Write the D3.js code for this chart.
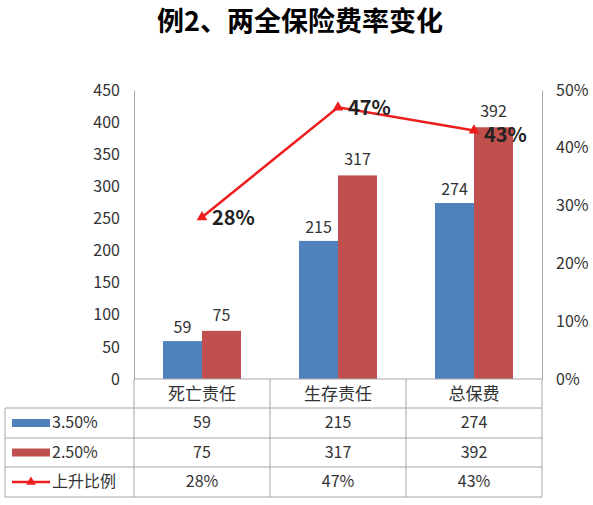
<!DOCTYPE html>
<html><head><meta charset="utf-8">
<script src="https://cdn.jsdelivr.net/npm/d3@7"></script>
<style>body{margin:0;background:#fff}text{font-family:"Noto Sans CJK SC","Noto Sans",sans-serif}</style>
</head><body><svg id="c" width="593" height="505"></svg>
<script>
var categories = ["死亡责任", "生存责任", "总保费"];
var series35 = [59, 215, 274];
var series25 = [75, 317, 392];
var rise = [28, 47, 43];
var leftTicks = [0, 50, 100, 150, 200, 250, 300, 350, 400, 450];
var rightTicks = [0, 10, 20, 30, 40, 50];

var svg = d3.select("#c");
var L = 134, R = 542, T = 90, B = 379;
var x = d3.scaleBand().domain(categories).range([L, R]);
var y = d3.scaleLinear().domain([0, 450]).range([B, T]);
var y2 = d3.scaleLinear().domain([0, 50]).range([B, T]);
var blue = "#4f81bd", red = "#c0504d", grid = "#a6a6a6";

svg.append("text").attr("x", 300).attr("y", 31).attr("text-anchor", "middle")
  .attr("font-size", 27).attr("font-weight", "bold").text("例2、两全保险费率变化");

// axes
var ax = svg.append("g").attr("transform", "translate(" + L + ",0)")
  .call(d3.axisLeft(y).tickValues(leftTicks).tickSize(0).tickPadding(14));
var ax2 = svg.append("g").attr("transform", "translate(" + R + ",0)")
  .call(d3.axisRight(y2).tickValues(rightTicks).tickSize(0).tickPadding(14).tickFormat(function (d) { return d + "%"; }));
[ax, ax2].forEach(function (g) {
  g.select(".domain").attr("stroke", grid);
  g.selectAll("text").attr("font-size", 16).attr("fill", "#333");
});

var bw = 39;
svg.selectAll(".b1").data(series35).enter().append("rect")
  .attr("x", function (d, i) { return x(categories[i]) + x.bandwidth() / 2 - bw; })
  .attr("y", function (d) { return y(d); }).attr("width", bw)
  .attr("height", function (d) { return B - y(d); }).attr("fill", blue);
svg.selectAll(".b2").data(series25).enter().append("rect")
  .attr("x", function (d, i) { return x(categories[i]) + x.bandwidth() / 2; })
  .attr("y", function (d) { return y(d); }).attr("width", bw)
  .attr("height", function (d) { return B - y(d); }).attr("fill", red);
svg.selectAll(".l1").data(series35).enter().append("text")
  .attr("x", function (d, i) { return x(categories[i]) + x.bandwidth() / 2 - bw / 2; })
  .attr("y", function (d) { return y(d) - 8; }).attr("text-anchor", "middle")
  .attr("font-size", 16).attr("fill", "#333").text(function (d) { return d; });
svg.selectAll(".l2").data(series25).enter().append("text")
  .attr("x", function (d, i) { return x(categories[i]) + x.bandwidth() / 2 + bw / 2; })
  .attr("y", function (d) { return y(d) - 10; }).attr("text-anchor", "middle")
  .attr("font-size", 16).attr("fill", "#333").text(function (d) { return d; });

// line
var lx = function (d, i) { return x(categories[i]) + x.bandwidth() / 2; };
svg.append("path").datum(rise).attr("fill", "none").attr("stroke", "#ee1c1c").attr("stroke-width", 2.5)
  .attr("d", d3.line().x(lx).y(function (d) { return y2(d); }));
svg.selectAll(".m").data(rise).enter().append("path")
  .attr("transform", function (d, i) { return "translate(" + lx(d, i) + "," + y2(d) + ")"; })
  .attr("d", d3.symbol().type(d3.symbolTriangle).size(50)).attr("fill", "#ee1c1c");
svg.selectAll(".ml").data(rise).enter().append("text")
  .attr("x", function (d, i) { return lx(d, i) + 10; })
  .attr("y", function (d, i) { return y2(d) + (i === 2 ? 12 : 8); })
  .attr("font-size", 20).attr("font-weight", "bold").attr("fill", "#222")
  .text(function (d) { return d + "%"; });

// table
var rows = [408, 438, 467, 497];
var lines = svg.append("g").attr("stroke", grid).attr("stroke-width", 1);
lines.append("line").attr("x1", L).attr("x2", R).attr("y1", B).attr("y2", B);
rows.forEach(function (r) { lines.append("line").attr("x1", 5).attr("x2", R).attr("y1", r).attr("y2", r); });
lines.append("line").attr("x1", 5).attr("x2", 5).attr("y1", rows[0]).attr("y2", rows[3]);
categories.forEach(function (c) {
  lines.append("line").attr("x1", x(c)).attr("x2", x(c)).attr("y1", B).attr("y2", rows[3]);
});
lines.append("line").attr("x1", R).attr("x2", R).attr("y1", B).attr("y2", rows[3]);

svg.selectAll(".cat").data(categories).enter().append("text")
  .attr("x", function (d) { return x(d) + x.bandwidth() / 2; }).attr("y", 400)
  .attr("text-anchor", "middle").attr("font-size", 17).attr("fill", "#333").text(function (d) { return d; });

var tableRows = [
  { name: "3.50%", vals: series35, fmt: function (d) { return d; }, color: blue },
  { name: "2.50%", vals: series25, fmt: function (d) { return d; }, color: red },
  { name: "上升比例", vals: rise, fmt: function (d) { return d + "%"; }, color: "#ee1c1c", line: true }
];
tableRows.forEach(function (r, k) {
  var cy = (rows[k] + rows[k + 1]) / 2;
  if (r.line) {
    svg.append("line").attr("x1", 12).attr("x2", 50).attr("y1", cy).attr("y2", cy)
      .attr("stroke", r.color).attr("stroke-width", 2.5);
    svg.append("path").attr("transform", "translate(31," + cy + ")")
      .attr("d", d3.symbol().type(d3.symbolTriangle).size(40)).attr("fill", r.color);
  } else {
    svg.append("rect").attr("x", 12).attr("y", cy - 4).attr("width", 38).attr("height", 8).attr("fill", r.color);
  }
  svg.append("text").attr("x", 52).attr("y", cy + 5).attr("font-size", 16).attr("fill", "#333").text(r.name);
  r.vals.forEach(function (v, i) {
    svg.append("text").attr("x", x(categories[i]) + x.bandwidth() / 2).attr("y", cy + 5)
      .attr("text-anchor", "middle").attr("font-size", 16).attr("fill", "#333").text(r.fmt(v));
  });
});
</script></body></html>
